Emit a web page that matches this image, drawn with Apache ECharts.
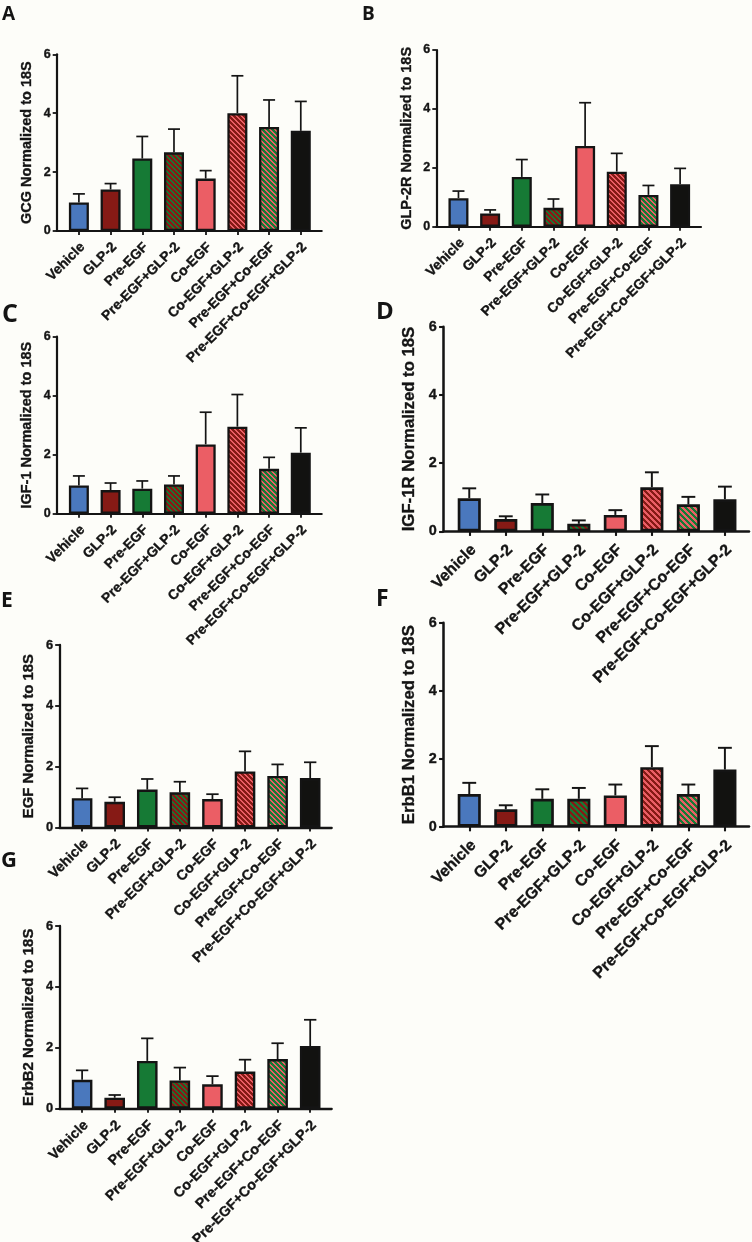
<!DOCTYPE html>
<html>
<head>
<meta charset="utf-8">
<script src="https://cdn.jsdelivr.net/npm/echarts@6/dist/echarts.min.js"></script>
<style>
html,body{margin:0;padding:0;background:#fdfdf9;}
#c{width:752px;height:1242px;}
</style>
</head>
<body>
<div id="c"></div>
<script>
// ---- data ----
const categories = ['Vehicle','GLP-2','Pre-EGF','Pre-EGF+GLP-2','Co-EGF','Co-EGF+GLP-2','Pre-EGF+Co-EGF','Pre-EGF+Co-EGF+GLP-2'];
const yTicks = [0, 2, 4, 6];

const gcgMean   = [0.97, 1.41, 2.46, 2.67, 1.78, 4.00, 3.53, 3.40];
const gcgUpper  = [1.26, 1.61, 3.21, 3.46, 2.05, 5.27, 4.45, 4.40];
const glp2rMean = [0.97, 0.45, 1.69, 0.64, 2.74, 1.87, 1.08, 1.44];
const glp2rUpper= [1.21, 0.57, 2.28, 0.94, 4.21, 2.49, 1.40, 1.98];
const igf1Mean  = [0.96, 0.80, 0.85, 0.99, 2.35, 2.95, 1.52, 2.07];
const igf1Upper = [1.28, 1.04, 1.11, 1.28, 3.44, 4.04, 1.91, 2.91];
const igf1rMean = [0.97, 0.36, 0.83, 0.22, 0.48, 1.29, 0.79, 0.94];
const igf1rUpper= [1.26, 0.44, 1.08, 0.32, 0.62, 1.73, 1.01, 1.31];
const egfMean   = [0.96, 0.84, 1.24, 1.15, 0.93, 1.84, 1.69, 1.62];
const egfUpper  = [1.28, 0.99, 1.59, 1.50, 1.09, 2.50, 2.07, 2.14];
const erbb1Mean = [0.96, 0.51, 0.82, 0.82, 0.92, 1.75, 0.96, 1.68];
const erbb1Upper= [1.29, 0.63, 1.10, 1.14, 1.24, 2.37, 1.24, 2.32];
const erbb2Mean = [0.95, 0.36, 1.57, 0.93, 0.80, 1.22, 1.63, 2.06];
const erbb2Upper= [1.26, 0.45, 2.31, 1.35, 1.07, 1.61, 2.15, 2.92];

const panelLetters = ['A','B','C','D','E','F','G'];
const yTitles = ['GCG Normalized to 18S','GLP-2R Normalized to 18S','IGF-1 Normalized to 18S',
  'IGF-1R Normalized to 18S','EGF Normalized to 18S','ErbB1 Normalized to 18S','ErbB2 Normalized to 18S'];
const means  = [gcgMean, glp2rMean, igf1Mean, igf1rMean, egfMean, erbb1Mean, erbb2Mean];
const uppers = [gcgUpper, glp2rUpper, igf1Upper, igf1rUpper, egfUpper, erbb1Upper, erbb2Upper];

// ---- layout / style ----
const grids = [
  {left:56.7, top:54.3, width:265,   height:176.7, s:1},
  {left:436.3,top:50,   width:264.7, height:176.7, s:1},
  {left:56.7, top:336.7,width:265,   height:177,   s:1},
  {left:443.7,top:326.7,width:305.3, height:204.6, s:1.155},
  {left:59.3, top:645,  width:272.4, height:182.3, s:1.03},
  {left:443.7,top:622.7,width:305.3, height:204,   s:1.155},
  {left:59.3, top:926,  width:272.4, height:182.7, s:1.03}
];
const letterPos = [
  {left:2, top:5, size:19},
  {left:362, top:5, size:19},
  {left:2, top:302, size:25},
  {left:376, top:300, size:24},
  {left:1, top:591, size:21},
  {left:376, top:588, size:23},
  {left:1, top:850, size:22}
];

const BLUE='#4a78bd', DRED='#861a15', GREEN='#167a35', PINK='#eb5e65', BLACK='#121210';
const INK='#141414';

function hatch(bg, fg, s, fw){
  const n = Math.round(5*s);
  const c = document.createElement('canvas');
  c.width = n; c.height = n;
  const g = c.getContext('2d');
  g.fillStyle = bg; g.fillRect(0,0,n,n);
  g.fillStyle = fg;
  for (let y=0;y<n;y++) for (let x=0;x<n;x++){
    if (((x - y) % n + n) % n < fw) g.fillRect(x,y,1,1);
  }
  return {image:c, repeat:'repeat'};
}
function fills(s){
  const w = s > 1.1 ? 3 : 2;
  return [BLUE, DRED, GREEN, hatch(DRED, GREEN, s, w), PINK, hatch(DRED, PINK, s, w), hatch(GREEN, PINK, s, w), BLACK];
}
const heavy = {textBorderColor:INK, textBorderWidth:0.35};

const LABEL_SHIFT = 0.12;
const option = {
  backgroundColor:'#fdfdf9',
  animation:false,
  title: letterPos.map((p,i)=>({
    text: panelLetters[i], left:p.left, top:p.top, padding:0,
    textStyle:{fontFamily:'Open Sans', fontWeight:'bold', fontSize:p.size, color:INK}
  })),
  grid: grids.map(g=>({left:g.left, top:g.top, width:g.width, height:g.height, containLabel:false, outerBoundsMode:'none'})),
  xAxis: grids.map((g,i)=>({
    type:'value', gridIndex:i, min:-0.7, max:7.66,
    axisLine:{show:true, onZero:false, lineStyle:{color:INK, width:2.2*g.s}},
    axisTick:{show:true, customValues:categories.map((c,k)=>k), length:4*g.s, lineStyle:{color:INK, width:1.8*g.s}},
    axisLabel:Object.assign({show:true, customValues:categories.map((c,k)=>k+LABEL_SHIFT), rotate:45, margin:14*g.s,
      formatter:(v)=>categories[Math.round(v-LABEL_SHIFT)],
      fontFamily:'Liberation Sans', fontWeight:'bold', fontSize:13.8*g.s, color:INK}, heavy),
    splitLine:{show:false}
  })),
  yAxis: grids.map((g,i)=>({
    type:'value', gridIndex:i, min:yTicks[0], max:yTicks[yTicks.length-1], interval:2,
    name: yTitles[i], nameLocation:'middle', nameGap:22*g.s,
    nameTextStyle:Object.assign({fontFamily:'Liberation Sans', fontWeight:'bold', fontSize:14.5*g.s, color:INK}, heavy),
    axisLine:{show:true, onZero:false, lineStyle:{color:INK, width:2.2*g.s}},
    axisTick:{show:true, length:4*g.s, lineStyle:{color:INK, width:1.8*g.s}},
    axisLabel:Object.assign({margin:6*g.s, fontFamily:'Liberation Sans', fontWeight:'bold', fontSize:12.5*g.s, color:INK}, heavy),
    splitLine:{show:false}
  })),
  series: []
};

grids.forEach((g,i)=>{
  const f = fills(g.s);
  option.series.push({
    type:'bar', xAxisIndex:i, yAxisIndex:i, barWidth:20*g.s, z:3,
    data: means[i].map((v,k)=>({value:[k, v], itemStyle:{color:f[k], borderColor:INK, borderWidth:2.3*g.s}}))
  });
  const cap = 12*g.s, lw = 1.7*g.s;
  option.series.push({
    type:'custom', xAxisIndex:i, yAxisIndex:i, z:2, clip:false,
    encode:{x:0, y:[1,2]},
    data: means[i].map((v,k)=>[k, v, uppers[i][k]]),
    renderItem:(params, api)=>{
      const p0 = api.coord([api.value(0), api.value(1)]);
      const p1 = api.coord([api.value(0), api.value(2)]);
      return {type:'group', children:[
        {type:'line', shape:{x1:p0[0], y1:p0[1], x2:p1[0], y2:p1[1]}, style:{stroke:INK, lineWidth:lw}},
        {type:'line', shape:{x1:p1[0]-cap/2, y1:p1[1], x2:p1[0]+cap/2, y2:p1[1]}, style:{stroke:INK, lineWidth:lw}}
      ]};
    }
  });
});

const chart = echarts.init(document.getElementById('c'), null, {renderer:'canvas'});
chart.setOption(option);
</script>
</body>
</html>
